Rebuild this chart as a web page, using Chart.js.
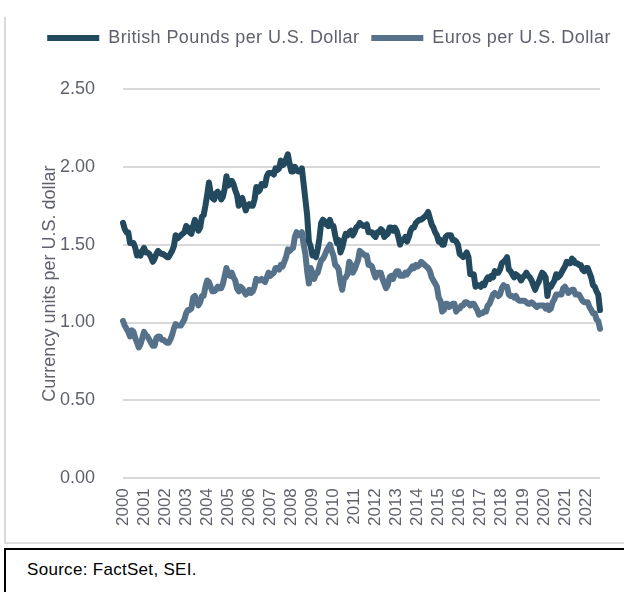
<!DOCTYPE html>
<html>
<head>
<meta charset="utf-8">
<script src="https://cdn.jsdelivr.net/npm/chart.js@4.4.1/dist/chart.umd.min.js"></script>
<style>
  body { margin: 0; background: #fff; width: 624px; height: 592px; overflow: hidden; position: relative; font-family: "Liberation Sans", Arial, sans-serif; }
  #leftline { position: absolute; left: 4px; top: 17px; width: 2px; height: 526px; background: #d9d9d9; }
  #bottomline { position: absolute; left: 4px; top: 542px; width: 640px; height: 2px; background: #dedede; }
  #chartbox { position: absolute; left: 7px; top: 0; }
  #source { position: absolute; left: 4px; top: 548px; width: 640px; height: 60px; border-top: 2px solid #000; border-left: 2px solid #000; }
  #source span { position: absolute; left: 21px; top: 10px; font-size: 17px; color: #000; letter-spacing: 0.3px; }
</style>
</head>
<body>
<div id="leftline"></div>
<div id="bottomline"></div>
<div id="chartbox"><canvas id="fx" width="617" height="541"></canvas></div>
<div id="source"><span>Source: FactSet, SEI.</span></div>
<script>
// monthly values, Jan 2000 - Sep 2022
var years = ["2000", "2001", "2002", "2003", "2004", "2005", "2006", "2007", "2008", "2009", "2010",
             "2011", "2012", "2013", "2014", "2015", "2016", "2017", "2018", "2019", "2020", "2021", "2022"];

var pounds = [
  1.64, 1.60, 1.58, 1.58, 1.51, 1.51, 1.51, 1.48, 1.43, 1.45, 1.43, 1.46, // 2000
  1.48, 1.45, 1.45, 1.44, 1.42, 1.39, 1.41, 1.44, 1.46, 1.45, 1.44, 1.44, // 2001
  1.43, 1.42, 1.42, 1.44, 1.46, 1.49, 1.56, 1.54, 1.55, 1.56, 1.57, 1.58, // 2002
  1.62, 1.61, 1.58, 1.57, 1.62, 1.66, 1.62, 1.59, 1.61, 1.68, 1.69, 1.75, // 2003
  1.82, 1.90, 1.83, 1.80, 1.79, 1.83, 1.84, 1.82, 1.79, 1.81, 1.86, 1.94, // 2004
  1.88, 1.89, 1.91, 1.89, 1.85, 1.82, 1.75, 1.79, 1.80, 1.76, 1.72, 1.75, // 2005
  1.76, 1.75, 1.75, 1.79, 1.87, 1.84, 1.85, 1.89, 1.88, 1.88, 1.94, 1.96, // 2006
  1.96, 1.96, 1.95, 1.99, 1.98, 1.99, 2.04, 2.01, 2.02, 2.05, 2.08, 2.02, // 2007
  1.97, 1.97, 2.00, 1.98, 1.97, 1.97, 1.99, 1.89, 1.79, 1.69, 1.52, 1.49, // 2008
  1.43, 1.44, 1.42, 1.47, 1.54, 1.64, 1.66, 1.65, 1.63, 1.62, 1.66, 1.62, // 2009
  1.62, 1.56, 1.51, 1.53, 1.45, 1.48, 1.53, 1.57, 1.56, 1.58, 1.59, 1.56, // 2010
  1.58, 1.61, 1.62, 1.64, 1.63, 1.62, 1.62, 1.63, 1.58, 1.58, 1.58, 1.56, // 2011
  1.55, 1.58, 1.58, 1.60, 1.59, 1.55, 1.56, 1.57, 1.61, 1.61, 1.59, 1.61, // 2012
  1.59, 1.55, 1.50, 1.53, 1.53, 1.55, 1.52, 1.55, 1.59, 1.61, 1.61, 1.64, // 2013
  1.65, 1.66, 1.66, 1.67, 1.68, 1.69, 1.71, 1.67, 1.63, 1.61, 1.58, 1.56, // 2014
  1.52, 1.53, 1.50, 1.50, 1.55, 1.56, 1.56, 1.56, 1.53, 1.53, 1.52, 1.50, // 2015
  1.44, 1.43, 1.42, 1.43, 1.45, 1.42, 1.31, 1.31, 1.31, 1.23, 1.24, 1.24, // 2016
  1.23, 1.25, 1.24, 1.27, 1.29, 1.28, 1.30, 1.29, 1.33, 1.32, 1.32, 1.34, // 2017
  1.38, 1.39, 1.40, 1.42, 1.34, 1.33, 1.31, 1.29, 1.31, 1.30, 1.29, 1.27, // 2018
  1.29, 1.30, 1.32, 1.30, 1.29, 1.27, 1.24, 1.21, 1.24, 1.26, 1.29, 1.32, // 2019
  1.31, 1.29, 1.17, 1.24, 1.23, 1.25, 1.27, 1.31, 1.29, 1.30, 1.32, 1.34, // 2020
  1.36, 1.39, 1.38, 1.38, 1.41, 1.40, 1.38, 1.38, 1.37, 1.37, 1.34, 1.33, // 2021
  1.35, 1.35, 1.32, 1.29, 1.24, 1.23, 1.20, 1.18, 1.08                    // 2022
];

var euros = [
  1.01, 0.98, 0.96, 0.94, 0.91, 0.95, 0.94, 0.90, 0.87, 0.84, 0.86, 0.90, // 2000
  0.94, 0.92, 0.91, 0.89, 0.87, 0.85, 0.85, 0.90, 0.91, 0.91, 0.89, 0.89, // 2001
  0.88, 0.87, 0.87, 0.89, 0.92, 0.96, 0.99, 0.98, 0.98, 0.98, 1.00, 1.02, // 2002
  1.06, 1.08, 1.08, 1.09, 1.16, 1.17, 1.14, 1.11, 1.13, 1.17, 1.17, 1.23, // 2003
  1.27, 1.26, 1.23, 1.20, 1.20, 1.21, 1.23, 1.22, 1.22, 1.25, 1.30, 1.35, // 2004
  1.31, 1.30, 1.32, 1.29, 1.27, 1.22, 1.20, 1.23, 1.22, 1.20, 1.18, 1.19, // 2005
  1.21, 1.19, 1.20, 1.23, 1.28, 1.27, 1.27, 1.28, 1.27, 1.26, 1.29, 1.32, // 2006
  1.30, 1.31, 1.32, 1.35, 1.35, 1.34, 1.37, 1.36, 1.39, 1.42, 1.47, 1.46, // 2007
  1.47, 1.48, 1.55, 1.58, 1.56, 1.56, 1.58, 1.50, 1.44, 1.33, 1.25, 1.35, // 2008
  1.32, 1.28, 1.31, 1.32, 1.36, 1.40, 1.41, 1.43, 1.46, 1.48, 1.50, 1.46, // 2009
  1.43, 1.37, 1.36, 1.34, 1.26, 1.21, 1.28, 1.29, 1.31, 1.39, 1.37, 1.32, // 2010
  1.34, 1.37, 1.40, 1.46, 1.45, 1.44, 1.43, 1.43, 1.37, 1.37, 1.36, 1.32, // 2011
  1.29, 1.32, 1.32, 1.32, 1.28, 1.25, 1.22, 1.24, 1.29, 1.30, 1.28, 1.31, // 2012
  1.33, 1.33, 1.30, 1.30, 1.30, 1.32, 1.31, 1.33, 1.34, 1.36, 1.35, 1.37, // 2013
  1.36, 1.37, 1.39, 1.38, 1.37, 1.36, 1.35, 1.33, 1.29, 1.27, 1.25, 1.23, // 2014
  1.16, 1.14, 1.07, 1.08, 1.12, 1.12, 1.10, 1.11, 1.12, 1.12, 1.07, 1.09, // 2015
  1.09, 1.11, 1.11, 1.13, 1.13, 1.12, 1.11, 1.12, 1.12, 1.10, 1.08, 1.05, // 2016
  1.06, 1.06, 1.07, 1.07, 1.11, 1.12, 1.15, 1.18, 1.19, 1.18, 1.17, 1.18, // 2017
  1.22, 1.24, 1.23, 1.23, 1.18, 1.17, 1.17, 1.16, 1.17, 1.15, 1.14, 1.14, // 2018
  1.14, 1.14, 1.13, 1.12, 1.12, 1.13, 1.12, 1.11, 1.10, 1.11, 1.11, 1.11, // 2019
  1.11, 1.09, 1.11, 1.08, 1.09, 1.13, 1.15, 1.18, 1.18, 1.18, 1.18, 1.22, // 2020
  1.23, 1.21, 1.19, 1.20, 1.21, 1.21, 1.18, 1.18, 1.18, 1.16, 1.14, 1.13, // 2021
  1.13, 1.13, 1.10, 1.08, 1.06, 1.06, 1.02, 1.01, 0.96                    // 2022
];

var yTicks = [0, 0.5, 1.0, 1.5, 2.0, 2.5];

// one category per month
var months = [];
years.forEach(function (y) {
    for (var m = 1; m <= 12; m++) months.push(y + "-" + (m < 10 ? "0" + m : m));
});
months = months.slice(0, pounds.length);

var textGray = "#5f626e";
var family = "'Liberation Sans', Arial, sans-serif";

// legend: wider letter spacing, one row, extra room underneath
var legendTweak = {
    id: "legendTweak",
    beforeInit: function (chart) {
        var lg = chart.legend;
        var fit = lg.fit;
        var draw = lg.draw;
        lg.fit = function () {
            var keep = this.maxWidth;
            this.ctx.save();
            this.ctx.letterSpacing = "0.4px";
            this.maxWidth = 700;
            fit.call(this);
            this.ctx.restore();
            this.maxWidth = keep;
            this.width = keep;
            this.height += 32;
        };
        lg.draw = function () {
            var right = this.right;
            this.right = 620;
            this.ctx.save();
            this.ctx.letterSpacing = "0.4px";
            this.ctx.translate(2, 0);
            draw.call(this);
            this.ctx.restore();
            this.right = right;
        };
    }
};

new Chart(document.getElementById("fx"), {
    type: "line",
    data: {
        labels: months,
        datasets: [
            {
                label: "British Pounds per U.S. Dollar",
                data: pounds,
                borderColor: "#22495d",
                backgroundColor: "#22495d",
                borderWidth: 6,
                borderCapStyle: "round",
                borderJoinStyle: "round",
                pointRadius: 0,
                tension: 0
            },
            {
                label: "Euros per U.S. Dollar",
                data: euros,
                borderColor: "#56728b",
                backgroundColor: "#56728b",
                borderWidth: 6,
                borderCapStyle: "round",
                borderJoinStyle: "round",
                pointRadius: 0,
                tension: 0
            }
        ]
    },
    plugins: [legendTweak],
    options: {
        responsive: false,
        animation: false,
        layout: { padding: { top: 17, left: 20, right: 24, bottom: 5 } },
        plugins: {
            legend: {
                position: "top",
                labels: {
                    usePointStyle: true,
                    pointStyle: "line",
                    pointStyleWidth: 52,
                    padding: 12,
                    color: textGray,
                    font: { size: 18, family: family }
                }
            },
            tooltip: { enabled: false }
        },
        scales: {
            x: {
                grid: { display: false, drawTicks: false },
                border: { display: false },
                ticks: {
                    autoSkip: false,
                    minRotation: 90,
                    maxRotation: 90,
                    padding: 10,
                    color: textGray,
                    font: { size: 17, family: family },
                    callback: function (v, i) {
                        return i % 12 === 0 ? years[i / 12] : null;
                    }
                }
            },
            y: {
                min: yTicks[0],
                max: yTicks[yTicks.length - 1],
                afterBuildTicks: function (scale) {
                    scale.ticks = yTicks.map(function (v) { return { value: v }; });
                },
                afterFit: function (scale) {
                    scale.width = 96;
                },
                grid: { color: "#d9d9d9", lineWidth: 2, drawTicks: false },
                border: { display: false },
                ticks: {
                    padding: 28,
                    color: textGray,
                    font: { size: 18, family: family },
                    callback: function (v) { return v.toFixed(2); }
                },
                title: {
                    display: true,
                    text: "Currency units per U.S. dollar",
                    color: textGray,
                    font: { size: 18, family: family },
                    padding: { top: 12, bottom: 0 }
                }
            }
        }
    }
});
</script>
</body>
</html>
